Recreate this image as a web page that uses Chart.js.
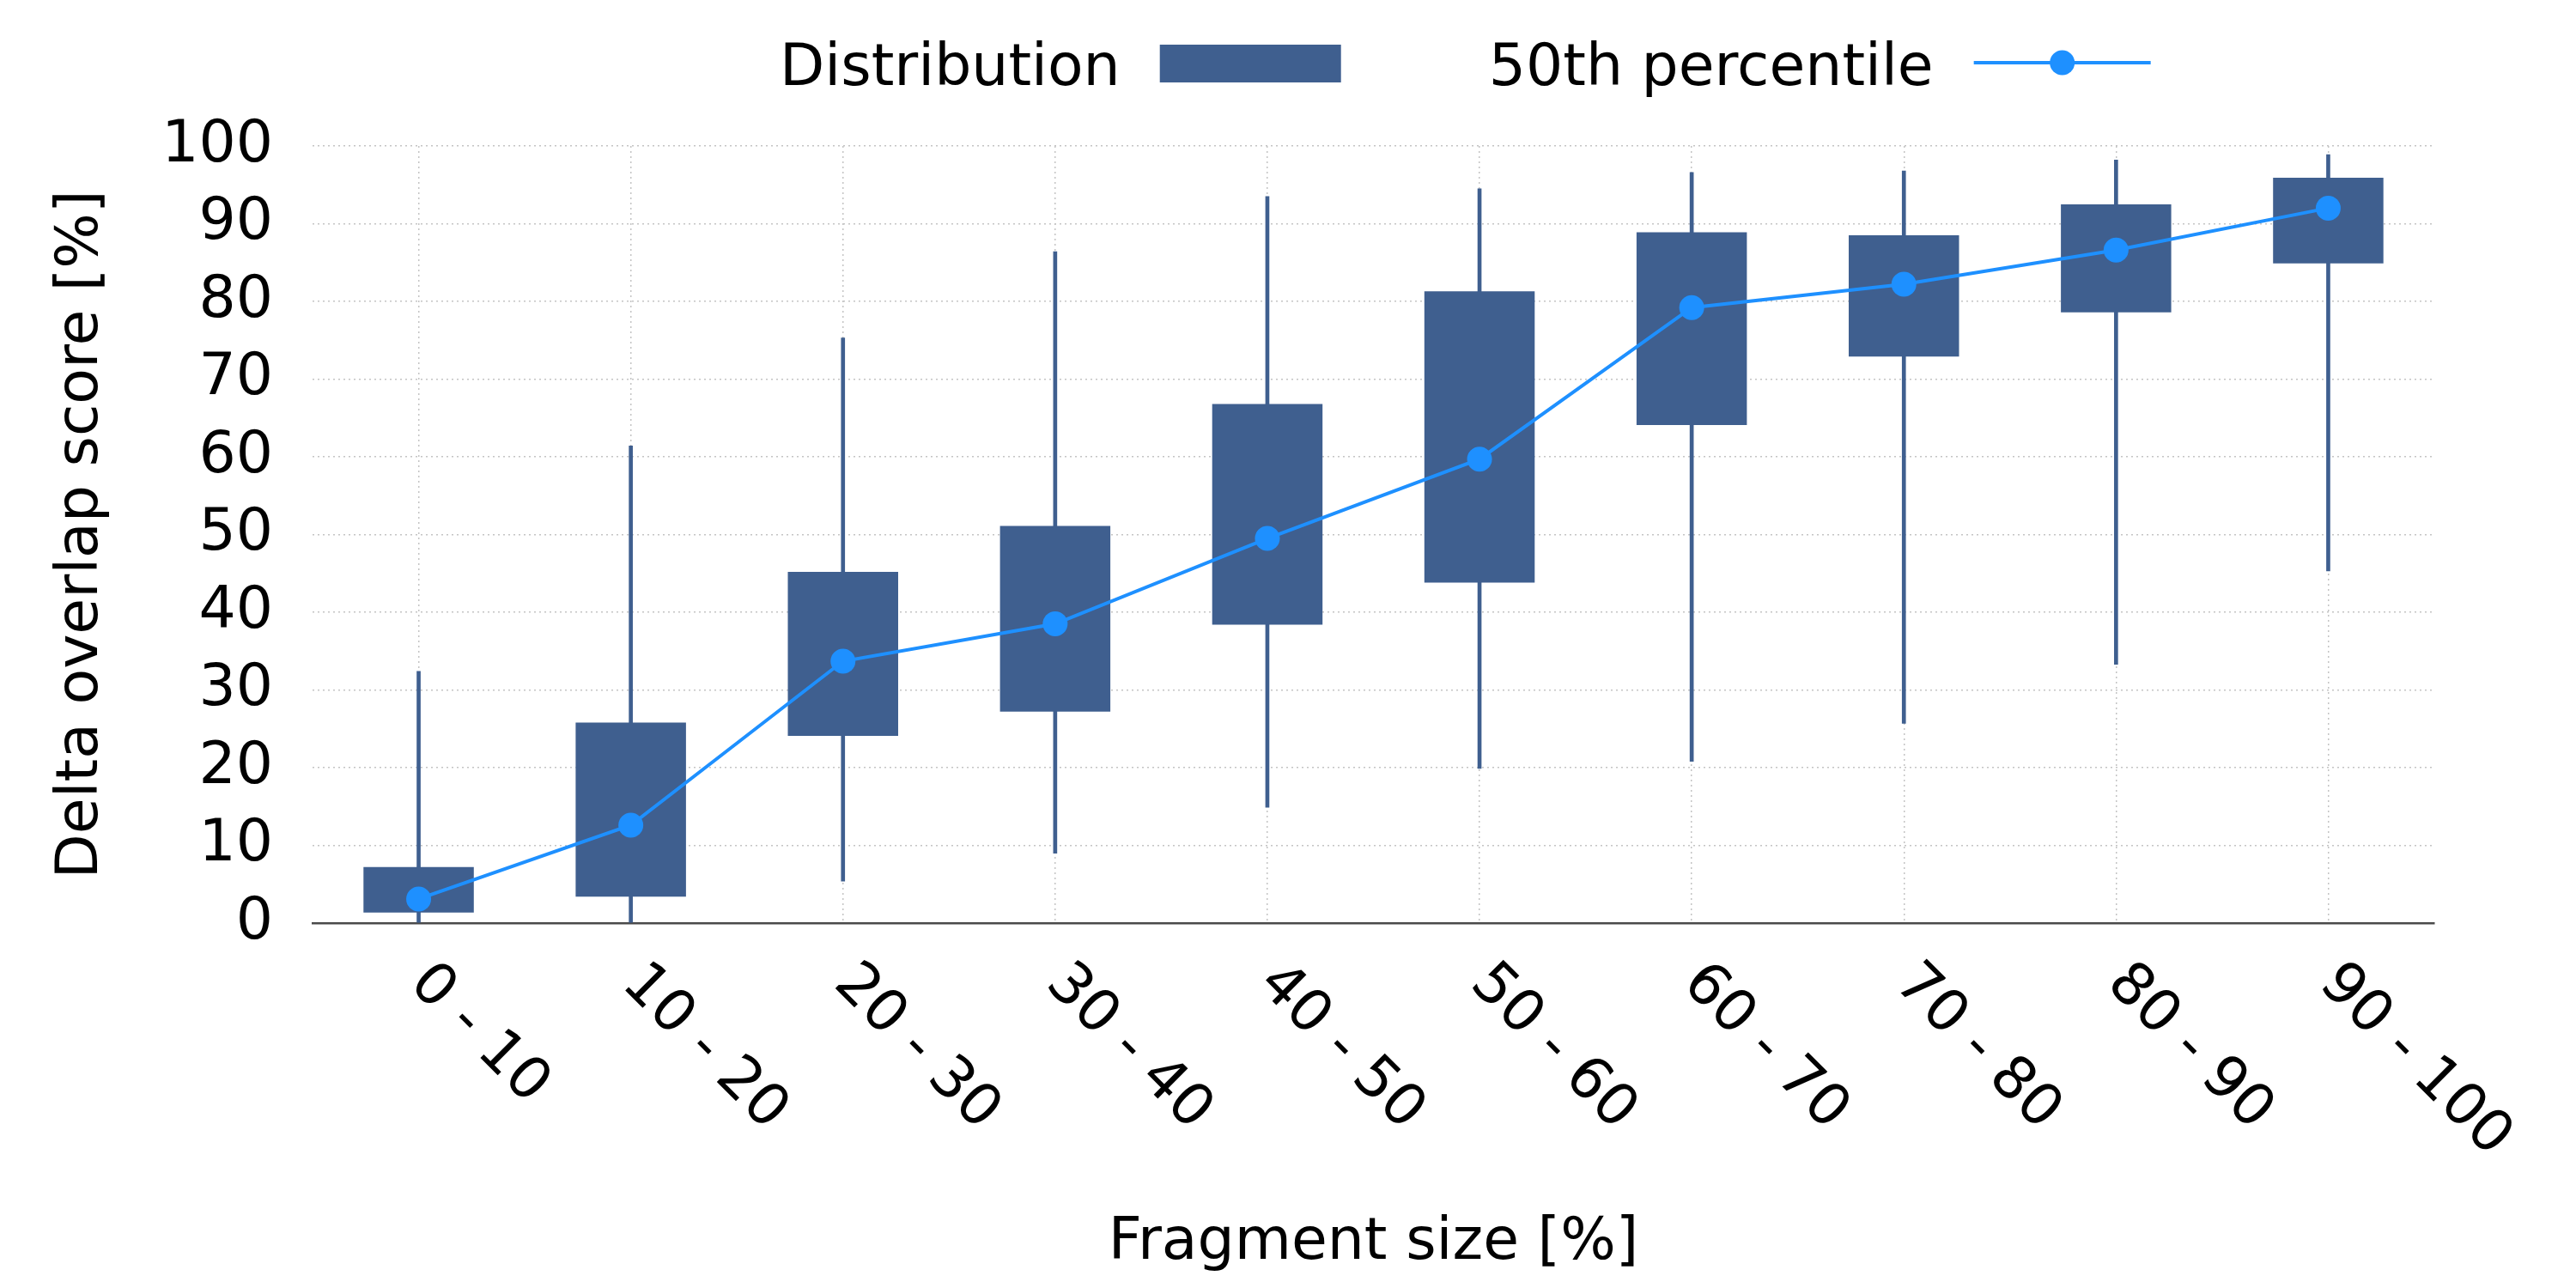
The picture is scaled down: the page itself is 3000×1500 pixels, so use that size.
<!DOCTYPE html>
<html>
<head>
<meta charset="utf-8">
<script src="https://cdn.jsdelivr.net/npm/chart.js@4/dist/chart.umd.min.js"></script>
<style>
  html, body { margin: 0; padding: 0; background: #fff; }
  #wrap { width: 3000px; height: 1500px; position: relative; }
</style>
</head>
<body>
<div id="wrap"><canvas id="boxChart"></canvas></div>
<script>
// --- Data ---
const categories = ['0 - 10', '10 - 20', '20 - 30', '30 - 40', '40 - 50',
                    '50 - 60', '60 - 70', '70 - 80', '80 - 90', '90 - 100'];
const whiskerLow  = [0, 0, 5.4, 9.0, 14.9, 19.9, 20.8, 25.7, 33.3, 45.3];
const whiskerHigh = [32.4, 61.4, 75.3, 86.4, 93.5, 94.5, 96.6, 96.8, 98.2, 98.9];
const q1 = [1.35, 3.4, 24.1, 27.2, 38.4, 43.8, 64.1, 72.9, 78.6, 84.9];
const q3 = [7.2, 25.8, 45.2, 51.1, 66.8, 81.3, 88.9, 88.5, 92.5, 95.9];
const median = [3.1, 12.6, 33.7, 38.5, 49.5, 59.7, 79.2, 82.2, 86.6, 92.0];
const yTicks = [0, 10, 20, 30, 40, 50, 60, 70, 80, 90, 100];

const THEME = {
    box: '#3f5f8f',
    median: '#1e90ff',
    grid: '#c4c4c4',
    axis: '#4a4a4a',
    text: '#000000',
    font: "'DejaVu Sans', sans-serif",
    size: 68
};

Chart.defaults.font.family = THEME.font;
Chart.defaults.font.size = THEME.size;
Chart.defaults.color = THEME.text;

// x tick labels rotated clockwise, starting at the tick
const rotatedLabels = {
    id: 'rotatedLabels',
    afterDraw(chart) {
        const ctx = chart.ctx;
        const xs = chart.scales.x;
        ctx.save();
        ctx.font = `${THEME.size}px ${THEME.font}`;
        ctx.fillStyle = THEME.text;
        ctx.textAlign = 'left';
        ctx.textBaseline = 'middle';
        categories.forEach((lab, i) => {
            ctx.save();
            ctx.translate(xs.getPixelForTick(i), chart.chartArea.bottom + 60);
            ctx.rotate(Math.PI / 4);
            ctx.fillText(lab, 0, 0);
            ctx.restore();
        });
        ctx.restore();
    }
};

// legend: text first, then symbol
const textFirstLegend = {
    id: 'textFirstLegend',
    afterDraw(chart) {
        const ctx = chart.ctx;
        ctx.save();
        ctx.font = `${THEME.size}px ${THEME.font}`;
        ctx.fillStyle = THEME.text;
        ctx.textBaseline = 'alphabetic';
        let x = 908;
        const base = 99;
        ctx.fillText('Distribution', x, base);
        x += ctx.measureText('Distribution').width + 46;
        ctx.fillStyle = THEME.box;
        ctx.fillRect(x, 52, 211, 44);
        x += 211 + 172;
        ctx.fillStyle = THEME.text;
        ctx.fillText('50th percentile', x, base);
        x += ctx.measureText('50th percentile').width + 47;
        ctx.strokeStyle = THEME.median;
        ctx.lineWidth = 4;
        ctx.beginPath();
        ctx.moveTo(x, 73);
        ctx.lineTo(x + 206, 73);
        ctx.stroke();
        ctx.fillStyle = THEME.median;
        ctx.beginPath();
        ctx.arc(x + 103, 73, 14.5, 0, Math.PI * 2);
        ctx.fill();
        ctx.restore();
    }
};

new Chart(document.getElementById('boxChart').getContext('2d'), {
    type: 'bar',
    data: {
        labels: categories,
        datasets: [
            {
                type: 'line',
                label: '50th percentile',
                data: median,
                borderColor: THEME.median,
                backgroundColor: THEME.median,
                borderWidth: 4,
                pointRadius: 14.5,
                pointBorderWidth: 0,
                pointBackgroundColor: THEME.median,
                tension: 0,
                fill: false,
                order: 0
            },
            {
                label: 'Distribution',
                data: q1.map((v, i) => [v, q3[i]]),
                backgroundColor: THEME.box,
                borderWidth: 0,
                grouped: false,
                barPercentage: 0.52,
                categoryPercentage: 1,
                order: 1
            },
            {
                label: 'whiskers',
                data: whiskerLow.map((v, i) => [v, whiskerHigh[i]]),
                backgroundColor: THEME.box,
                borderWidth: 0,
                grouped: false,
                barThickness: 4,
                order: 2
            }
        ]
    },
    options: {
        responsive: true,
        maintainAspectRatio: false,
        animation: false,
        layout: { padding: { top: 170, right: 165, bottom: 0, left: 0 } },
        plugins: {
            legend: { display: false },
            tooltip: { enabled: false }
        },
        scales: {
            x: {
                offset: true,
                grid: {
                    offset: false,
                    color: THEME.grid,
                    lineWidth: 1.5,
                    drawTicks: false
                },
                border: { display: true, color: THEME.axis, width: 2.5, dash: [2, 4] },
                ticks: { display: false },
                title: {
                    display: true,
                    text: 'Fragment size [%]',
                    font: { size: THEME.size },
                    padding: { top: 0, bottom: 11 }
                },
                afterFit(scale) { scale.height = 425; }
            },
            y: {
                min: 0,
                max: 100,
                afterBuildTicks(scale) { scale.ticks = yTicks.map(v => ({ value: v })); },
                grid: {
                    color: THEME.grid,
                    lineWidth: 1.5,
                    drawTicks: false
                },
                border: { display: false, dash: [2, 4] },
                ticks: { padding: 46, font: { size: THEME.size } },
                title: {
                    display: true,
                    text: 'Delta overlap score [%]',
                    font: { size: THEME.size },
                    padding: { top: 55, bottom: 0 }
                },
                afterFit(scale) { scale.width = 364; }
            }
        }
    },
    plugins: [rotatedLabels, textFirstLegend]
});
</script>
</body>
</html>
